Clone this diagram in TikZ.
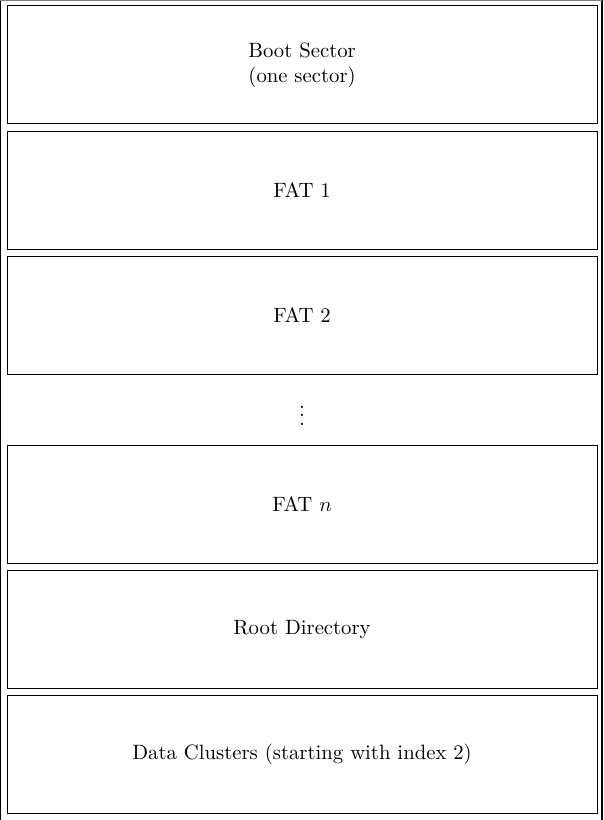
\documentclass[tikz,border=0pt]{standalone}
\usepackage{amsmath}
\usepackage{tikz}
\usetikzlibrary{positioning}

\begin{document}
\begin{tikzpicture}[scale = 1, block/.style = {draw, minimum width = 10cm, minimum height = 2cm}, node distance = 0.105cm]
	\useasboundingbox (0,0) rectangle (10.237,-13.898);
	\draw[line width = 0.8pt] (10.205,-14) -- (10.205,0);
	\draw[line width = 0.8pt] (0,0) -- (0,-14);
	\draw[gray, line width = 0.4pt] (0,0) -- (10.205,0);
	\node[block, align = center] (boot) at (5.12,-1.1) {Boot Sector\\(one sector)};
	\node[block, below = of boot] (fat1) {FAT 1};
	\node[block, below = of fat1] (fat2) {FAT 2};
	\node[below = of fat2, minimum height = 0.97cm] (dots) {$ \vdots $};
	\node[block, below = of dots] (fatn) {FAT $ n $};
	\node[block, below = of fatn] (root) {Root Directory};
	\node[block, below = of root] (data) {Data Clusters (starting with index 2)};
\end{tikzpicture}
\end{document}
